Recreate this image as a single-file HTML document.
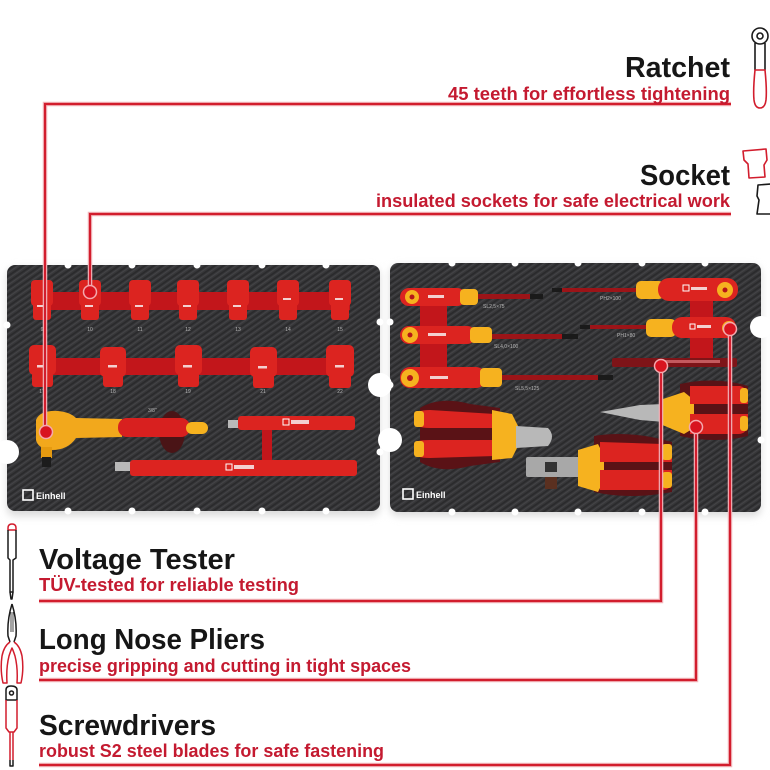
<!DOCTYPE html>
<html>
<head>
<meta charset="utf-8">
<style>
html,body{margin:0;padding:0;background:#fff;}
svg{display:block;}
.t{font-family:"Liberation Sans",sans-serif;font-weight:bold;fill:#161616;font-size:29px;}
.s{font-family:"Liberation Sans",sans-serif;font-weight:bold;fill:#c41a30;font-size:18px;}
.lb{font-family:"Liberation Sans",sans-serif;fill:#b8b8b8;font-size:5px;}
.lg{font-family:"Liberation Sans",sans-serif;font-weight:bold;fill:#fff;font-size:9px;}
</style>
</head>
<body>
<svg width="770" height="770" viewBox="0 0 770 770" xmlns="http://www.w3.org/2000/svg">
<defs>
  <pattern id="cf" width="5" height="5" patternUnits="userSpaceOnUse" patternTransform="rotate(-35)">
    <rect width="5" height="5" fill="#363638"/>
    <rect width="5" height="1.6" fill="#2a2a2c"/>
    <rect y="2.6" width="5" height="1" fill="#454548"/>
  </pattern>
  <filter id="sh" x="-5%" y="-5%" width="110%" height="115%">
    <feGaussianBlur stdDeviation="4"/>
  </filter>
</defs>

<rect width="770" height="770" fill="#fff"/>

<!-- shadows -->
<rect x="7" y="268" width="373" height="248" rx="8" fill="#dadada" filter="url(#sh)"/>
<rect x="390" y="266" width="371" height="250" rx="8" fill="#dadada" filter="url(#sh)"/>

<!-- trays -->
<rect x="7" y="265" width="373" height="246" rx="8" fill="url(#cf)"/>
<rect x="390" y="263" width="371" height="249" rx="8" fill="url(#cf)"/>

<!-- notches -->
<g fill="#fff">
  <circle cx="68" cy="265" r="3.5"/><circle cx="132" cy="265" r="3.5"/><circle cx="197" cy="265" r="3.5"/><circle cx="262" cy="265" r="3.5"/><circle cx="326" cy="265" r="3.5"/>
  <circle cx="68" cy="511" r="3.5"/><circle cx="132" cy="511" r="3.5"/><circle cx="197" cy="511" r="3.5"/><circle cx="262" cy="511" r="3.5"/><circle cx="326" cy="511" r="3.5"/>
  <circle cx="7" cy="325" r="3.5"/><circle cx="7" cy="452" r="12"/>
  <circle cx="380" cy="322" r="3.5"/><circle cx="380" cy="385" r="12"/><circle cx="380" cy="452" r="3.5"/>
  <circle cx="452" cy="263" r="3.5"/><circle cx="515" cy="263" r="3.5"/><circle cx="578" cy="263" r="3.5"/><circle cx="642" cy="263" r="3.5"/><circle cx="705" cy="263" r="3.5"/>
  <circle cx="452" cy="512" r="3.5"/><circle cx="515" cy="512" r="3.5"/><circle cx="578" cy="512" r="3.5"/><circle cx="642" cy="512" r="3.5"/><circle cx="705" cy="512" r="3.5"/>
  <circle cx="390" cy="322" r="3.5"/><circle cx="390" cy="385" r="3.5"/><circle cx="390" cy="440" r="12"/>
  <circle cx="761" cy="327" r="11"/><circle cx="761" cy="440" r="3.5"/>
</g>

<!-- LEFT TRAY CONTENTS -->
<rect x="33" y="292" width="317" height="18" fill="#c2161b"/>
<g fill="#dc2420">
  <rect x="31" y="280" width="22" height="26" rx="4"/><rect x="33" y="302" width="18" height="18" rx="3"/>
  <rect x="79" y="280" width="22" height="26" rx="4"/><rect x="81" y="302" width="18" height="18" rx="3"/>
  <rect x="129" y="280" width="22" height="26" rx="4"/><rect x="131" y="302" width="18" height="18" rx="3"/>
  <rect x="177" y="280" width="22" height="26" rx="4"/><rect x="179" y="302" width="18" height="18" rx="3"/>
  <rect x="227" y="280" width="22" height="26" rx="4"/><rect x="229" y="302" width="18" height="18" rx="3"/>
  <rect x="277" y="280" width="22" height="26" rx="4"/><rect x="279" y="302" width="18" height="18" rx="3"/>
  <rect x="329" y="280" width="22" height="26" rx="4"/><rect x="331" y="302" width="18" height="18" rx="3"/>
</g>
<g fill="#f3d0d0">
  <rect x="37" y="305" width="8" height="2"/><rect x="85" y="305" width="8" height="2"/><rect x="135" y="305" width="8" height="2"/><rect x="183" y="305" width="8" height="2"/><rect x="233" y="305" width="8" height="2"/><rect x="283" y="298" width="8" height="2"/><rect x="335" y="298" width="8" height="2"/>
</g>
<g class="lb" text-anchor="middle">
  <text x="42" y="331">9</text><text x="90" y="331">10</text><text x="140" y="331">11</text><text x="188" y="331">12</text><text x="238" y="331">13</text><text x="288" y="331">14</text><text x="340" y="331">15</text>
  <text x="42" y="393">17</text><text x="113" y="393">18</text><text x="188" y="393">19</text><text x="263" y="393">21</text><text x="340" y="393">22</text>
</g>
<rect x="33" y="358" width="317" height="17" fill="#c2161b"/>
<g fill="#dc2420">
  <rect x="29" y="345" width="27" height="30" rx="5"/><rect x="32" y="372" width="21" height="15" rx="3"/>
  <rect x="100" y="347" width="26" height="30" rx="5"/><rect x="103" y="374" width="20" height="13" rx="3"/>
  <rect x="175" y="345" width="27" height="30" rx="5"/><rect x="178" y="372" width="21" height="15" rx="3"/>
  <rect x="250" y="347" width="27" height="30" rx="5"/><rect x="253" y="374" width="21" height="14" rx="3"/>
  <rect x="326" y="345" width="28" height="32" rx="5"/><rect x="329" y="374" width="22" height="14" rx="3"/>
</g>
<g fill="#f3d0d0">
  <rect x="37" y="365" width="9" height="2.5"/><rect x="108" y="365" width="9" height="2.5"/><rect x="183" y="365" width="9" height="2.5"/><rect x="258" y="366" width="9" height="2.5"/><rect x="335" y="365" width="9" height="2.5"/>
</g>

<!-- ratchet -->
<ellipse cx="172" cy="432" rx="13" ry="21" fill="#4a1416"/>
<text class="lb" x="148" y="412">3/8"</text>
<path d="M36,420 Q40,410 58,411 Q70,412 76,418 L122,419 L122,437 L76,438 Q68,450 52,450 Q38,449 36,440 Z" fill="#f2a81c"/>
<rect x="41" y="447" width="11" height="11" fill="#e59a10"/>
<rect x="42" y="457" width="9" height="10" fill="#1c1c1c"/>
<rect x="118" y="418" width="72" height="19" rx="9" fill="#d8201f"/>
<rect x="186" y="422" width="22" height="12" rx="6" fill="#f6b21f"/>
<!-- extensions -->
<rect x="262" y="428" width="10" height="34" fill="#c2161b"/>
<rect x="228" y="420" width="13" height="8" fill="#b9b9b9"/>
<rect x="238" y="416" width="117" height="14" rx="3" fill="#dc2420"/>
<rect x="283" y="419" width="6" height="6" fill="none" stroke="#fff" stroke-width="1"/>
<rect x="291" y="420" width="18" height="4" fill="#f3d0d0"/>
<rect x="115" y="462" width="17" height="9" fill="#b9b9b9"/>
<rect x="130" y="460" width="227" height="16" rx="3" fill="#dc2420"/>
<rect x="226" y="464" width="6" height="6" fill="none" stroke="#fff" stroke-width="1"/>
<rect x="234" y="465" width="20" height="4" fill="#f3d0d0"/>
<rect x="23" y="490" width="10" height="10" fill="none" stroke="#fff" stroke-width="1.6"/>
<text class="lg" x="36" y="499">Einhell</text>

<!-- RIGHT TRAY CONTENTS -->
<rect x="420" y="300" width="27" height="80" fill="#c2161b"/>
<rect x="690" y="300" width="23" height="60" fill="#c2161b"/>
<rect x="478" y="294" width="65" height="5" fill="#9c1418"/><rect x="530" y="294" width="13" height="5" fill="#1a1a1a"/>
<rect x="400" y="288" width="66" height="18" rx="9" fill="#dc2420"/>
<rect x="460" y="289" width="18" height="16" rx="4" fill="#f6b21f"/>
<circle cx="412" cy="297" r="7" fill="#f6b21f"/><circle cx="412" cy="297" r="2.5" fill="#b5141a"/>
<rect x="428" y="295" width="16" height="3" fill="#f3d0d0"/>
<rect x="490" y="334" width="88" height="5" fill="#9c1418"/><rect x="562" y="334" width="16" height="5" fill="#1a1a1a"/>
<rect x="400" y="326" width="76" height="18" rx="9" fill="#dc2420"/>
<rect x="470" y="327" width="22" height="16" rx="4" fill="#f6b21f"/>
<circle cx="410" cy="335" r="8" fill="#f6b21f"/><circle cx="410" cy="335" r="2.5" fill="#b5141a"/>
<rect x="428" y="333" width="18" height="3" fill="#f3d0d0"/>
<rect x="500" y="375" width="113" height="5" fill="#9c1418"/><rect x="598" y="375" width="15" height="5" fill="#1a1a1a"/>
<rect x="400" y="367" width="86" height="21" rx="10" fill="#dc2420"/>
<rect x="480" y="368" width="22" height="19" rx="4" fill="#f6b21f"/>
<circle cx="410" cy="378" r="9" fill="#f6b21f"/><circle cx="410" cy="378" r="3" fill="#b5141a"/>
<rect x="430" y="376" width="18" height="3" fill="#f3d0d0"/>
<g class="lb">
  <text x="483" y="308">SL2,5×75</text><text x="494" y="348">SL4,0×100</text><text x="515" y="390">SL5,5×125</text>
  <text x="600" y="300">PH2×100</text><text x="617" y="337">PH1×80</text>
</g>
<rect x="552" y="288" width="88" height="4" fill="#9c1418"/><rect x="552" y="288" width="10" height="4" fill="#1a1a1a"/>
<rect x="636" y="281" width="28" height="18" rx="5" fill="#f6b21f"/>
<rect x="658" y="278" width="80" height="23" rx="11" fill="#dc2420"/>
<circle cx="725" cy="290" r="8" fill="#f6b21f"/><circle cx="725" cy="290" r="2.5" fill="#b5141a"/>
<rect x="683" y="285" width="6" height="6" fill="none" stroke="#fff" stroke-width="1"/><rect x="691" y="287" width="16" height="3" fill="#f3d0d0"/>
<rect x="580" y="325" width="70" height="4" fill="#9c1418"/><rect x="580" y="325" width="10" height="4" fill="#1a1a1a"/>
<rect x="646" y="319" width="30" height="18" rx="5" fill="#f6b21f"/>
<rect x="672" y="317" width="64" height="21" rx="10" fill="#dc2420"/>
<circle cx="729" cy="328" r="7" fill="#f6b21f"/>
<rect x="690" y="324" width="5" height="5" fill="none" stroke="#fff" stroke-width="1"/><rect x="697" y="325" width="14" height="3" fill="#f3d0d0"/>
<rect x="612" y="358" width="125" height="9" rx="2" fill="#7e1418"/>
<rect x="660" y="360" width="60" height="3" fill="#c45a5e"/>
<path d="M420,408 Q440,396 470,404 L500,408 L500,462 L470,466 Q440,474 420,462 Z" fill="#5a1216"/>
<path d="M414,416 Q416,410 430,410 L495,414 L495,428 L430,428 Q414,428 414,420 Z" fill="#dc2420"/>
<path d="M414,444 Q414,440 430,440 L495,440 L495,456 L430,458 Q414,458 414,452 Z" fill="#dc2420"/>
<rect x="414" y="411" width="10" height="16" rx="3" fill="#f6b21f"/>
<rect x="414" y="441" width="10" height="16" rx="3" fill="#f6b21f"/>
<path d="M492,410 L512,414 L518,426 L518,446 L512,458 L492,460 Z" fill="#f6b21f"/>
<path d="M516,426 L548,428 Q556,436 548,446 L516,448 Z" fill="#b8b8b8"/>
<path d="M594,436 Q630,430 672,442 L672,492 Q630,500 594,492 Z" fill="#5a1216"/>
<rect x="526" y="457" width="54" height="20" rx="2" fill="#a8a8a8"/>
<rect x="545" y="462" width="12" height="10" fill="#333"/>
<rect x="545" y="477" width="12" height="12" fill="#5a3020"/>
<path d="M578,450 L598,444 L604,456 L604,480 L598,492 L578,486 Z" fill="#f6b21f"/>
<path d="M600,442 L662,444 Q672,446 672,456 L672,462 L600,462 Z" fill="#dc2420"/>
<path d="M600,470 L672,470 L672,480 Q672,490 662,490 L600,490 Z" fill="#dc2420"/>
<rect x="662" y="444" width="10" height="16" rx="3" fill="#f6b21f"/>
<rect x="662" y="472" width="10" height="16" rx="3" fill="#f6b21f"/>
<path d="M680,384 Q715,376 748,386 L748,436 Q715,444 680,436 Z" fill="#5a1216"/>
<path d="M600,412 L640,405 L664,404 L664,422 L640,420 Z" fill="#b8b8b8"/>
<path d="M660,400 L684,392 L694,400 L694,428 L684,434 L660,424 Z" fill="#f6b21f"/>
<path d="M690,386 L740,386 Q748,388 748,398 L748,404 L690,404 Z" fill="#dc2420"/>
<path d="M690,414 L748,414 L748,422 Q748,434 738,434 L690,434 Z" fill="#dc2420"/>
<rect x="740" y="388" width="8" height="15" rx="3" fill="#f6b21f"/>
<rect x="740" y="416" width="8" height="15" rx="3" fill="#f6b21f"/>
<rect x="403" y="489" width="10" height="10" fill="none" stroke="#fff" stroke-width="1.6"/>
<text class="lg" x="416" y="498">Einhell</text>

<!-- CONNECTOR LINES -->
<g fill="none" stroke-linejoin="miter">
  <g stroke="#f2b8bd" stroke-width="4.5">
    <path d="M731,104 H45 V432"/>
    <path d="M731,214 H90 V292"/>
    <path d="M39,601 H661 V366"/>
    <path d="M39,680 H696 V427"/>
    <path d="M39,765 H730 V329"/>
  </g>
  <g stroke="#d21d2d" stroke-width="2.2">
    <path d="M731,104 H45 V432"/>
    <path d="M731,214 H90 V292"/>
    <path d="M39,601 H661 V366"/>
    <path d="M39,680 H696 V427"/>
    <path d="M39,765 H730 V329"/>
  </g>
</g>
<g fill="#d8141f" stroke="#f4a9ae" stroke-width="1.5">
  <circle cx="46" cy="432" r="6.5"/>
  <circle cx="90" cy="292" r="6.5"/>
  <circle cx="661" cy="366" r="6.5"/>
  <circle cx="696" cy="427" r="6.5"/>
  <circle cx="730" cy="329" r="6.5"/>
</g>

<!-- TEXT -->
<text class="t" x="625" y="77" textLength="105" lengthAdjust="spacingAndGlyphs">Ratchet</text>
<text class="s" x="448" y="100" textLength="282" lengthAdjust="spacingAndGlyphs">45 teeth for effortless tightening</text>
<text class="t" x="640" y="185" textLength="90" lengthAdjust="spacingAndGlyphs">Socket</text>
<text class="s" x="376" y="207" textLength="354" lengthAdjust="spacingAndGlyphs">insulated sockets for safe electrical work</text>

<text class="t" x="39" y="569" textLength="196" lengthAdjust="spacingAndGlyphs">Voltage Tester</text>
<text class="s" x="39" y="591" textLength="260" lengthAdjust="spacingAndGlyphs">TÜV-tested for reliable testing</text>
<text class="t" x="39" y="649" textLength="226" lengthAdjust="spacingAndGlyphs">Long Nose Pliers</text>
<text class="s" x="39" y="672" textLength="372" lengthAdjust="spacingAndGlyphs">precise gripping and cutting in tight spaces</text>
<text class="t" x="39" y="735" textLength="177" lengthAdjust="spacingAndGlyphs">Screwdrivers</text>
<text class="s" x="39" y="757" textLength="345" lengthAdjust="spacingAndGlyphs">robust S2 steel blades for safe fastening</text>

<!-- ICONS top-right -->
<g fill="none" stroke-width="1.6" stroke-linejoin="round">
  <circle cx="760" cy="36" r="8" stroke="#1a1a1a"/>
  <circle cx="760" cy="36" r="3" stroke="#1a1a1a"/>
  <path d="M755,43 L755,70 M765,43 L765,70" stroke="#1a1a1a"/>
  <path d="M755,70 Q753,90 754,100 Q755,108 760,108 Q765,108 766,100 Q767,90 765,70 Z" stroke="#d21d2d"/>
  <path d="M743,151 L766,149 L767,160 L764,165 L765,177 L749,178 L748,164 L744,160 Z" stroke="#d21d2d"/>
  <path d="M771,184 L758,185 L757,196 L759,200 L757,214 L771,214" stroke="#1a1a1a"/>
</g>
<!-- ICONS bottom-left -->
<g fill="none" stroke-width="1.5" stroke-linejoin="round">
  <path d="M8,528 Q8,524 12,524 Q16,524 16,528 L16,530 L8,530 Z" stroke="#d21d2d"/>
  <path d="M8,530 L8,558 L10,560 L10,592 L13,592 L13,560 L16,558 L16,530" stroke="#1a1a1a"/>
  <path d="M10,592 L11,599 L12,599 L13,592" stroke="#1a1a1a"/>
  <path d="M12,604 Q7,620 8,636 L10,642 M12,604 Q17,620 16,636 L14,642" stroke="#1a1a1a"/>
  <path d="M11,612 L11,632 M13,612 L13,632" stroke="#1a1a1a" stroke-width="0.8"/>
  <path d="M10,642 Q4,646 2,656 Q0,670 3,683 L7,683 Q6,668 9,656 Q11,650 12,648 Q13,650 15,656 Q18,668 17,683 L21,683 Q24,670 22,656 Q20,646 14,642" stroke="#d21d2d"/>
  <path d="M6,690 Q6,686 11,686 Q17,686 17,690 L17,700 L6,700 Z" stroke="#1a1a1a"/>
  <circle cx="11.5" cy="693" r="2" stroke="#1a1a1a"/>
  <path d="M6,700 L6,728 L9,732 L14,732 L17,728 L17,700" stroke="#d21d2d"/>
  <path d="M10,732 L10,760 M13,732 L13,760" stroke="#d21d2d"/>
  <path d="M10,760 L10,766 L13,766 L13,760" stroke="#1a1a1a"/>
</g>
</svg>
</body>
</html>
